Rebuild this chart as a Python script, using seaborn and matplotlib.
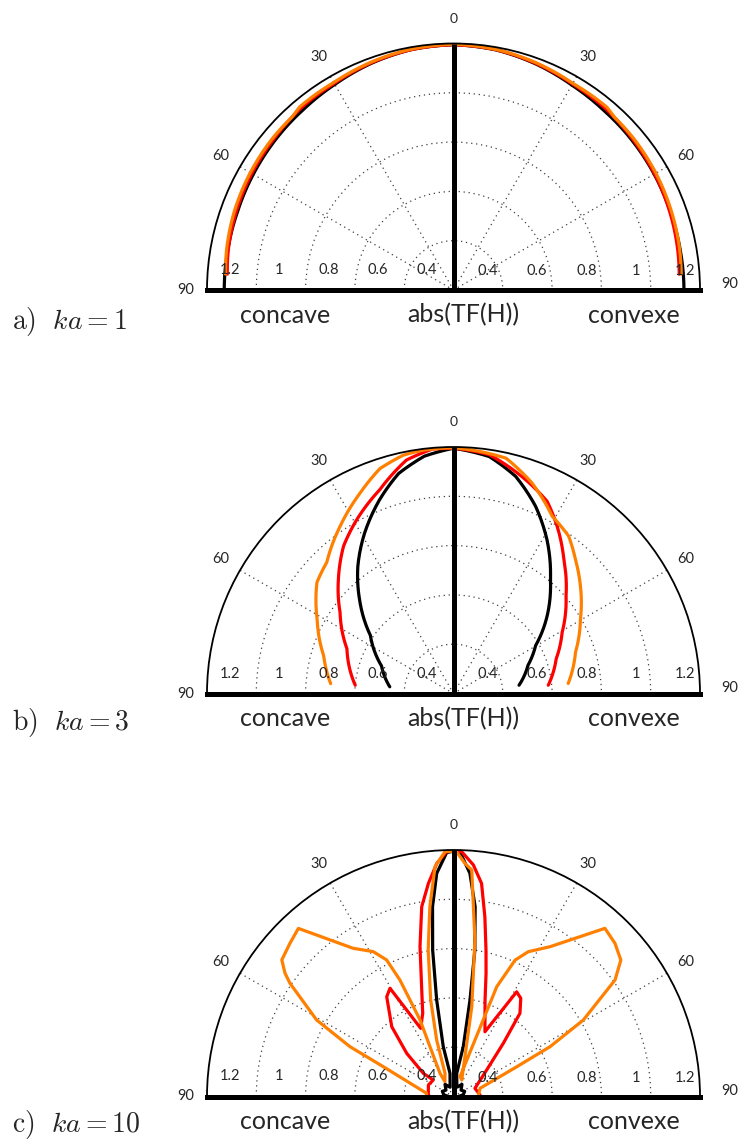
import numpy as np
import matplotlib
matplotlib.use("Agg")
import matplotlib.pyplot as plt
import matplotlib.transforms as mtransforms
import seaborn as sns

sns.set_style("white")
plt.rcParams["font.family"] = ["Lato", "DejaVu Sans"]
plt.rcParams["mathtext.fontset"] = "cm"

# angles in degrees from the axis (0 = top), radius in abs(TF(H)) units
# cc = concave side (left), cx = convexe side (right)

# ---- a) ka = 1 ----
a_blk_ang = [0, 10, 20, 30, 40, 50, 60, 70, 80, 90]
a_blk_cc = [1.195, 1.19, 1.178, 1.163, 1.152, 1.145, 1.138, 1.132, 1.13, 1.13]
a_blk_cx = [1.195, 1.189, 1.176, 1.16, 1.15, 1.145, 1.14, 1.135, 1.134, 1.135]
a_red_ang = [0, 10, 20, 30, 40, 50, 60, 70, 80, 86]
a_red_cc = [1.195, 1.19, 1.18, 1.168, 1.163, 1.152, 1.145, 1.137, 1.128, 1.12]
a_red_cx = [1.195, 1.19, 1.178, 1.165, 1.16, 1.15, 1.142, 1.133, 1.124, 1.118]
a_org_ang = [0, 10, 20, 30, 40, 43, 50, 60, 70, 80, 86]
a_org_cc = [1.197, 1.192, 1.183, 1.172, 1.17, 1.16, 1.158, 1.152, 1.145, 1.135, 1.127]
a_org_cx = [1.197, 1.191, 1.181, 1.168, 1.168, 1.158, 1.155, 1.148, 1.14, 1.132, 1.126]

# ---- b) ka = 3 ----
b_blk_cc_ang = [0, 7, 14, 21, 29, 37, 45, 55, 69, 84]
b_blk_cc = [1.195, 1.17, 1.12, 1.04, 0.944, 0.845, 0.739, 0.612, 0.513, 0.46]
b_blk_cx_ang = [0, 8.6, 16, 23.7, 31.3, 40.3, 50.3, 59.7, 69.3, 82.8]
b_blk_cx = [1.195, 1.172, 1.116, 1.029, 0.93, 0.808, 0.694, 0.586, 0.523, 0.468]
b_red_cc_ang = [0, 5, 11.4, 19.9, 29.1, 36.7, 45.2, 54.4, 67.2, 85.2]
b_red_cc = [1.195, 1.195, 1.166, 1.079, 1.007, 0.946, 0.858, 0.766, 0.669, 0.60]
b_red_cx_ang = [0, 8.5, 18.7, 26, 31.8, 39.4, 49, 60.6, 71.3, 85]
b_red_cx = [1.195, 1.18, 1.115, 1.067, 0.998, 0.905, 0.805, 0.706, 0.64, 0.586]
b_org_cc_ang = [0, 7.1, 11.9, 18.1, 25, 34.1, 44, 50.9, 61.4, 73.7, 85.4]
b_org_cc = [1.197, 1.195, 1.188, 1.16, 1.097, 1.02, 0.94, 0.914, 0.83, 0.749, 0.70]
b_org_cx_ang = [0, 12.6, 20.5, 29.1, 36.2, 42.3, 49.7, 59.6, 71.2, 85]
b_org_cx = [1.197, 1.178, 1.111, 1.023, 0.991, 0.935, 0.875, 0.797, 0.723, 0.667]

# ---- c) ka = 10 ----
c_blk_cc_ang = [0, 1.6, 4.3, 6.3, 8.1, 9.9, 11.6, 8.6, 20, 35, 50, 65, 80, 90]
c_blk_cc = [1.195, 1.19, 1.108, 0.975, 0.80, 0.597, 0.406, 0.295, 0.24, 0.26, 0.24, 0.25, 0.24, 0.22]
c_blk_cx_ang = [0, 1.5, 4.2, 6.5, 8.3, 9.7, 11.1, 7.9, 20, 35, 50, 65, 80, 90]
c_blk_cx = [1.195, 1.193, 1.108, 0.975, 0.80, 0.597, 0.406, 0.295, 0.24, 0.26, 0.24, 0.25, 0.24, 0.22]
c_red_cc_ang = [0, 1.6, 4.1, 6.7, 9.5, 12.6, 16.6, 20.3, 25.7, 30.4, 33.8, 41.5, 47.3,
                52.5, 50.8, 65.4, 82.8, 90]
c_red_cc = [1.195, 1.194, 1.148, 1.071, 0.981, 0.823, 0.651, 0.56, 0.507, 0.709, 0.687,
            0.578, 0.458, 0.354, 0.306, 0.312, 0.303, 0.30]
c_red_cx_ang = [0, 1.9, 4.9, 7.5, 9.9, 12.5, 14.8, 18.1, 25.9, 31.1, 34.4, 38.6, 43.1,
                51.4, 69.1, 86.8, 90]
c_red_cx = [1.195, 1.194, 1.143, 1.072, 0.94, 0.809, 0.717, 0.612, 0.492, 0.696, 0.683,
            0.632, 0.496, 0.372, 0.293, 0.308, 0.305]
c_org_cc_ang = [0, 2, 4.6, 7.1, 9.8, 13.3, 16.6, 20.1, 30, 30.2, 25.3, 23.6, 24.7, 26.1,
                29, 34.1, 42.7, 46.9, 51.5, 53.8, 55.3, 60.8, 64.3, 67, 83.2, 90]
c_org_cc = [1.195, 1.194, 1.135, 0.976, 0.803, 0.602, 0.439, 0.30, 0.27, 0.309, 0.423,
            0.539, 0.72, 0.817, 0.872, 0.926, 1.128, 1.109, 1.09, 1.047, 1.007, 0.836,
            0.666, 0.509, 0.31, 0.31]
c_org_cx_ang = [0, 0.7, 2.8, 4.6, 7.8, 11.5, 26.5, 18.2, 21.5, 24.3, 27.3, 32.8, 42,
                46.5, 50.8, 54.2, 59.5, 62.7, 64.8, 72.8, 90]
c_org_cx = [1.195, 1.193, 1.147, 1.122, 0.841, 0.572, 0.275, 0.285, 0.679, 0.807, 0.861,
            0.923, 1.118, 1.103, 1.076, 1.008, 0.811, 0.641, 0.484, 0.313, 0.30]

panel_labels = [r"$\mathrm{a)}\ \ ka = 1$", r"$\mathrm{b)}\ \ ka = 3$", r"$\mathrm{c)}\ \ ka = 10$"]
r_ticks = [0.4, 0.6, 0.8, 1.0, 1.2]
r_tick_labels = ["0.4", "0.6", "0.8", "1", "1.2"]
ang_ticks = [30, 60]

BLACK, RED, ORANGE = "black", "#ff0000", "#ff8000"

panels = [
    [(a_blk_ang, a_blk_cc, a_blk_ang, a_blk_cx, BLACK),
     (a_red_ang, a_red_cc, a_red_ang, a_red_cx, RED),
     (a_org_ang, a_org_cc, a_org_ang, a_org_cx, ORANGE)],
    [(b_blk_cc_ang, b_blk_cc, b_blk_cx_ang, b_blk_cx, BLACK),
     (b_red_cc_ang, b_red_cc, b_red_cx_ang, b_red_cx, RED),
     (b_org_cc_ang, b_org_cc, b_org_cx_ang, b_org_cx, ORANGE)],
    [(c_blk_cc_ang, c_blk_cc, c_blk_cx_ang, c_blk_cx, BLACK),
     (c_red_cc_ang, c_red_cc, c_red_cx_ang, c_red_cx, RED),
     (c_org_cc_ang, c_org_cc, c_org_cx_ang, c_org_cx, ORANGE)],
]
smooth = [True, True, False]   # a and b are smooth curves, c keeps straight segments

W, H = 739, 1140
cx, R = 453.5, 246.5
baselines = [290, 693.5, 1096.5]
label_dy = [31, 29, 28]

fig = plt.figure(figsize=(W / 100, H / 100), dpi=100)

for i, curves in enumerate(panels):
    base = baselines[i]
    # polar axes keeps a square box; the half disc sits in its middle
    ax = fig.add_axes([(cx - R) / W, 1 - (base + R / 2) / H, 2 * R / W, 2 * R / H],
                      projection="polar")
    ax.set_theta_zero_location("N")
    ax.set_theta_direction(-1)
    ax.set_thetamin(-90)
    ax.set_thetamax(90)

    # vertical axis line
    ax.plot([0, 0], [0.2, 1.2], color="black", lw=3.6, zorder=5, solid_capstyle="butt")

    for cc_ang, cc_r, cx_ang, cx_r, col in curves:
        sns.lineplot(x=-np.radians(cc_ang), y=cc_r, sort=False, estimator=None,
                     color=col, lw=2.3, ax=ax)
        if smooth[i]:
            ax.lines[-1].get_path()._interpolation_steps = 20
        sns.lineplot(x=np.radians(cx_ang), y=cx_r, sort=False, estimator=None,
                     color=col, lw=2.3, ax=ax)
        if smooth[i]:
            ax.lines[-1].get_path()._interpolation_steps = 20

    ax.set_ylim(0.2, 1.2)
    ax.set_rgrids([0.4, 0.6, 0.8, 1.0], labels=[])
    ax.set_thetagrids([-60, -30, 30, 60], labels=[])
    ax.grid(True, color="0.25", linestyle=(0, (1, 3)), lw=0.9)
    ax.tick_params(length=0)
    ax.set_xlabel("")
    ax.set_ylabel("")
    ax.spines["polar"].set_linewidth(1.3)
    ax.spines["start"].set_linewidth(3.6)
    ax.spines["end"].set_linewidth(3.6)
    for s in ("polar", "start", "end"):
        ax.spines[s].set_color("black")

    # radial labels sitting just above the base line
    tr_l = mtransforms.offset_copy(ax.transData, fig=fig, x=23, y=20, units="dots")
    tr_r = mtransforms.offset_copy(ax.transData, fig=fig, x=-15, y=19, units="dots")
    for v, lab in zip(r_ticks, r_tick_labels):
        ax.text(-np.pi / 2, v, lab, transform=tr_l, ha="center", va="center",
                fontsize=10.5, clip_on=False)
        ax.text(np.pi / 2, v, lab, transform=tr_r, ha="center", va="center",
                fontsize=10.5, clip_on=False)

    # angle labels
    ax.text(0, 1.3, "0", ha="center", va="center", fontsize=10, clip_on=False)
    for a in ang_ticks:
        ax.text(np.radians(a), 1.29, str(a), ha="center", va="center", fontsize=10.5, clip_on=False)
        ax.text(-np.radians(a), 1.29, str(a), ha="center", va="center", fontsize=10.5, clip_on=False)
    ax.text(-np.pi / 2, 1.285, "90", ha="center", va="center", fontsize=10.5, clip_on=False)
    ax.text(np.radians(88.8), 1.32, "90", ha="center", va="center", fontsize=10.5, clip_on=False)

    ty = 1 - (base + 25) / H
    fig.text(285 / W, ty, "concave", ha="center", va="center", fontsize=18)
    fig.text(463 / W, ty, "abs(TF(H))", ha="center", va="center", fontsize=18)
    fig.text(634 / W, ty, "convexe", ha="center", va="center", fontsize=18)
    fig.text(12 / W, 1 - (base + label_dy[i]) / H, panel_labels[i], ha="left", va="center",
             fontsize=20)

fig.savefig("out.png", dpi=100, facecolor="white")
